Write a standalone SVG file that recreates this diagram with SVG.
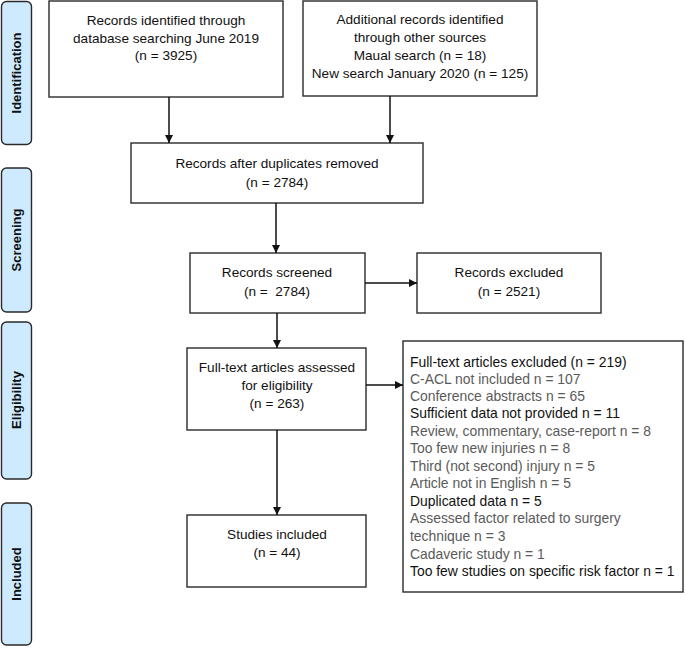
<svg xmlns="http://www.w3.org/2000/svg" width="685" height="648" viewBox="0 0 685 648">
<style>
.box{fill:#fff;stroke:#2a2a2a;stroke-width:1.4}
.lab{fill:#cdeaff;stroke:#2a2a2a;stroke-width:1.4}
.t{font-family:"Liberation Sans",Arial,sans-serif;font-size:13.6px;fill:#111;text-anchor:middle}
.l{font-family:"Liberation Sans",Arial,sans-serif;font-size:13.9px;fill:#111}
.g{fill:#5a5a5a}
.s{font-family:"Liberation Sans",Arial,sans-serif;font-size:13px;font-weight:bold;fill:#111;text-anchor:middle}
.c{stroke:#111;stroke-width:1.5;fill:none;marker-end:url(#ah)}
</style>
<defs>
<marker id="ah" viewBox="0 0 10 10" refX="10" refY="5" markerWidth="8" markerHeight="8" markerUnits="userSpaceOnUse" orient="auto">
<path d="M0,0 L10,5 L0,10 z" fill="#111"/>
</marker>
</defs>
<g id="stage-identification"><rect class="lab" x="1.5" y="1.5" width="30" height="143" rx="5"/><text class="s" transform="translate(21,73) rotate(-90)">Identification</text></g>
<g id="stage-screening"><rect class="lab" x="1.5" y="168" width="30" height="144" rx="5"/><text class="s" transform="translate(21,240) rotate(-90)">Screening</text></g>
<g id="stage-eligibility"><rect class="lab" x="1.5" y="322" width="30" height="157" rx="5"/><text class="s" transform="translate(21,400) rotate(-90)">Eligibility</text></g>
<g id="stage-included"><rect class="lab" x="1.5" y="503" width="30" height="142" rx="5"/><text class="s" transform="translate(21,574) rotate(-90)">Included</text></g>

<g id="db-records"><rect class="box" x="49" y="1" width="234" height="96"/>
<text class="t" x="166" y="25">Records identified through</text>
<text class="t" x="166" y="43">database searching June 2019</text>
<text class="t" x="166" y="60">(n = 3925)</text></g>

<g id="other-records"><rect class="box" x="303" y="1" width="234" height="95"/>
<text class="t" x="420" y="24">Additional records identified</text>
<text class="t" x="420" y="42">through other sources</text>
<text class="t" x="420" y="60">Maual search (n = 18)</text>
<text class="t" x="420" y="78">New search January 2020 (n = 125)</text></g>

<g id="dedup"><rect class="box" x="131" y="143" width="292" height="60"/>
<text class="t" x="277" y="168">Records after duplicates removed</text>
<text class="t" x="277" y="187">(n = 2784)</text></g>

<g id="screened"><rect class="box" x="190" y="253" width="175" height="60"/>
<text class="t" x="277" y="277">Records screened</text>
<text class="t" x="277" y="296" xml:space="preserve">(n =  2784)</text></g>

<g id="excluded"><rect class="box" x="417" y="253" width="184" height="60"/>
<text class="t" x="509" y="277">Records excluded</text>
<text class="t" x="509" y="296">(n = 2521)</text></g>

<g id="fulltext"><rect class="box" x="187" y="348" width="179" height="82"/>
<text class="t" x="277" y="372">Full-text articles assessed</text>
<text class="t" x="277" y="390">for eligibility</text>
<text class="t" x="277" y="408">(n = 263)</text></g>

<g id="fulltext-excluded"><rect class="box" x="403" y="341" width="280" height="251"/>
<text class="l" x="410" y="367">Full-text articles excluded (n = 219)</text>
<text class="l g" x="410" y="384">C-ACL not included n = 107</text>
<text class="l g" x="410" y="401">Conference abstracts n = 65</text>
<text class="l" x="410" y="418">Sufficient data not provided n = 11</text>
<text class="l g" x="410" y="436">Review, commentary, case-report n = 8</text>
<text class="l g" x="410" y="453">Too few new injuries n = 8</text>
<text class="l g" x="410" y="471">Third (not second) injury n = 5</text>
<text class="l g" x="410" y="488">Article not in English n = 5</text>
<text class="l" x="410" y="506">Duplicated data n = 5</text>
<text class="l g" x="410" y="523">Assessed factor related to surgery</text>
<text class="l g" x="410" y="541">technique n = 3</text>
<text class="l g" x="410" y="559">Cadaveric study n = 1</text>
<text class="l" x="410" y="576">Too few studies on specific risk factor n = 1</text></g>

<g id="included"><rect class="box" x="187" y="515" width="179" height="72"/>
<text class="t" x="277" y="539">Studies included</text>
<text class="t" x="277" y="557">(n = 44)</text></g>

<g id="connectors">
<line class="c" x1="169" y1="97" x2="169" y2="143"/>
<line class="c" x1="390" y1="96" x2="390" y2="143"/>
<line class="c" x1="276" y1="203" x2="276" y2="253"/>
<line class="c" x1="365" y1="283" x2="417" y2="283"/>
<line class="c" x1="277" y1="313" x2="277" y2="348"/>
<line class="c" x1="366" y1="385" x2="403" y2="385"/>
<line class="c" x1="277" y1="430" x2="277" y2="515"/>
</g>
</svg>
